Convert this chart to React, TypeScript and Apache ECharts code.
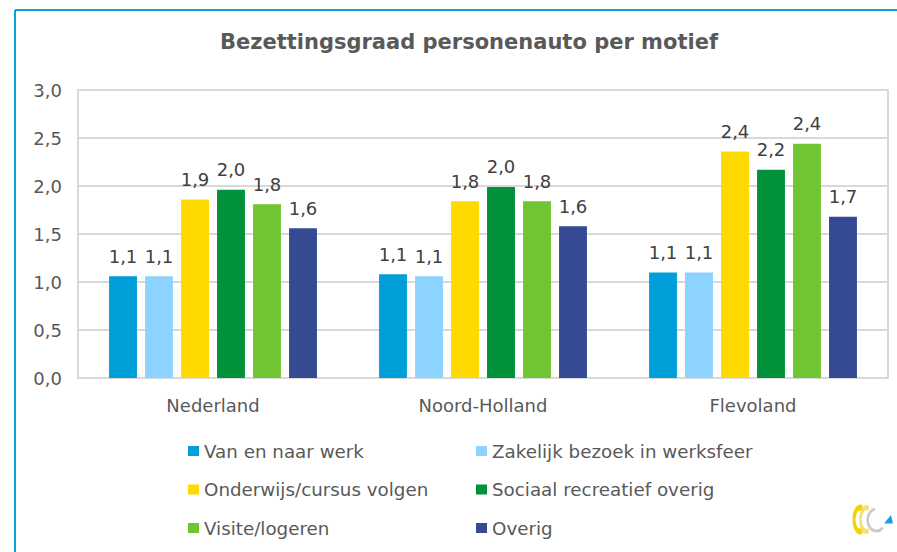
import React, { useEffect, useRef } from "react";
import * as echarts from "echarts";

const titleText = "Bezettingsgraad personenauto per motief";
const regions = ["Nederland", "Noord-Holland", "Flevoland"];
const motives = [
  "Van en naar werk",
  "Zakelijk bezoek in werksfeer",
  "Onderwijs/cursus volgen",
  "Sociaal recreatief overig",
  "Visite/logeren",
  "Overig",
];
const vanEnNaarWerk = [1.06, 1.08, 1.1];
const zakelijkBezoek = [1.06, 1.06, 1.1];
const onderwijsCursus = [1.86, 1.84, 2.36];
const sociaalRecreatief = [1.96, 1.99, 2.17];
const visiteLogeren = [1.81, 1.84, 2.44];
const overig = [1.56, 1.58, 1.68];
const seriesValues = [vanEnNaarWerk, zakelijkBezoek, onderwijsCursus, sociaalRecreatief, visiteLogeren, overig];
const colors = ["#009FDA", "#8DD3FF", "#FFDA00", "#00913A", "#72C532", "#354A93"];
const yMin = 0;
const yMax = 3;
const yInterval = 0.5;

const FONT = "'DejaVu Sans', Verdana, sans-serif";
const fmt = (v: number) => v.toFixed(1).replace(".", ",");

const cArc = (r: number, a0: number, a1: number, stroke: string, lw: number) => ({
  type: "arc",
  shape: { cx: 0, cy: 0, r, startAngle: Math.PI * a0, endAngle: Math.PI * a1, clockwise: true },
  style: { stroke, lineWidth: lw, fill: "none" },
});

export default function App() {
  const ref = useRef<HTMLDivElement>(null);
  useEffect(() => {
    if (!ref.current) return;
    const chart = echarts.init(ref.current, undefined, { renderer: "svg" });
    const series = motives.map((name, i) => ({
      name,
      type: "bar" as const,
      data: seriesValues[i],
      barCategoryGap: "23%",
      barGap: "29%",
      itemStyle: { color: colors[i] },
      label: {
        show: true,
        position: "top" as const,
        distance: 11,
        formatter: (p: any) => fmt(p.value),
        color: "#404040",
        fontFamily: FONT,
        fontSize: 18,
      },
    }));
    const legendCommon = {
      orient: "vertical" as const,
      top: 441,
      padding: 0,
      itemWidth: 11,
      itemHeight: 10,
      itemGap: 18.5,
      icon: "rect",
      selectedMode: false,
      textStyle: { color: "#595959", fontFamily: FONT, fontSize: 18.3, lineHeight: 20 },
    };
    chart.setOption({
      animation: false,
      backgroundColor: "#ffffff",
      title: {
        text: titleText,
        left: 469,
        top: 31,
        padding: 0,
        textAlign: "center",
        textStyle: { color: "#595959", fontFamily: FONT, fontSize: 21, fontWeight: "bold" },
      },
      legend: [
        { ...legendCommon, left: 188, data: [motives[0], motives[2], motives[4]] },
        { ...legendCommon, left: 476, data: [motives[1], motives[3], motives[5]] },
      ],
      grid: {
        left: 78,
        right: 9,
        top: 90,
        bottom: 174,
        containLabel: false,
        show: true,
        borderColor: "#D9D9D9",
        borderWidth: 2,
      },
      xAxis: {
        type: "category",
        data: regions,
        axisLine: { show: true, lineStyle: { color: "#D9D9D9", width: 2 } },
        axisTick: { show: false },
        axisLabel: { color: "#595959", fontFamily: FONT, fontSize: 18, margin: 18 },
      },
      yAxis: {
        type: "value",
        min: yMin,
        max: yMax,
        interval: yInterval,
        axisLine: { show: false },
        axisTick: { show: false },
        splitLine: { lineStyle: { color: "#D9D9D9", width: 2 } },
        axisLabel: {
          color: "#595959",
          fontFamily: FONT,
          fontSize: 18,
          margin: 16,
          formatter: (v: number) => fmt(v),
        },
      },
      series,
      graphic: [
        { type: "line", shape: { x1: 15, y1: 10, x2: 897, y2: 10 }, style: { stroke: "#0EA0E0", lineWidth: 2 } },
        { type: "line", shape: { x1: 15, y1: 10, x2: 15, y2: 552 }, style: { stroke: "#0EA0E0", lineWidth: 2 } },
        { type: "group", x: 860, y: 519.5, scaleX: 0.5, children: [cArc(12, 0.38, 1.62, "#F2D500", 6)] },
        { type: "group", x: 866.5, y: 519.5, scaleX: 0.5, children: [cArc(12, 0.38, 1.62, "#EDE07A", 5)] },
        { type: "group", x: 876.5, y: 520, scaleX: 0.8, children: [cArc(11, 0.25, 1.45, "#C9C9C9", 3)] },
        {
          type: "polygon",
          shape: { points: [[884, 523.5], [893, 523.5], [891, 515]] },
          style: { fill: "#1AA0E0" },
        },
      ],
    });
    return () => chart.dispose();
  }, []);
  return (
    <div
      ref={ref}
      style={{ position: "fixed", left: 0, top: 0, width: 897, height: 552, background: "#fff" }}
    />
  );
}
